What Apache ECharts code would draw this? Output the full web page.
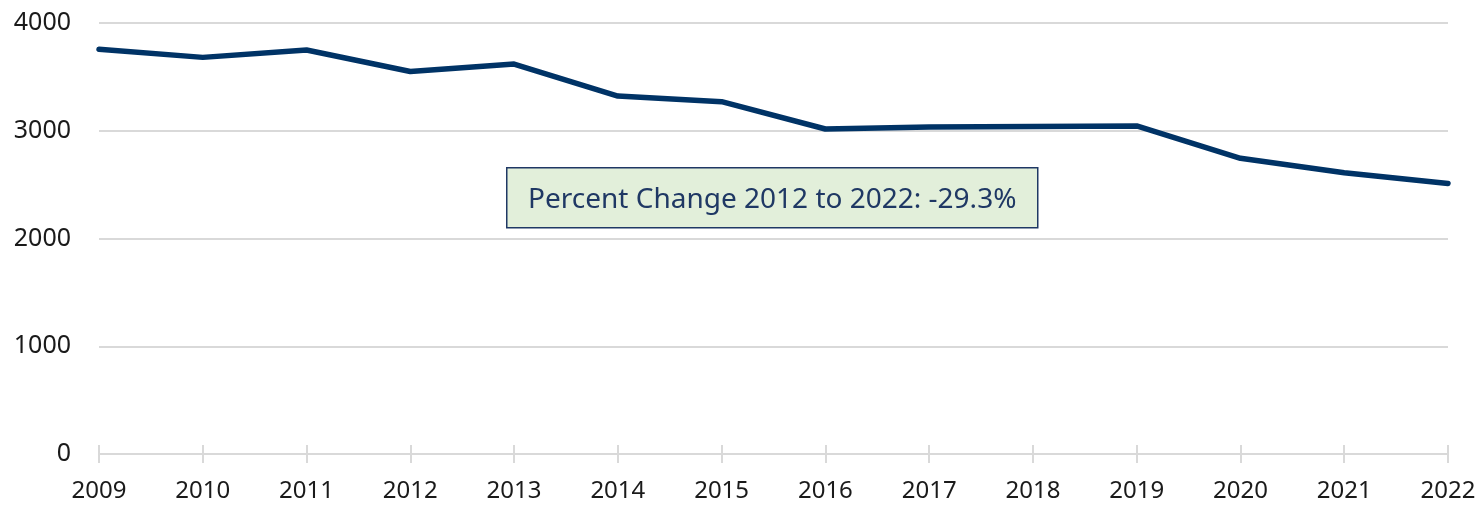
<!DOCTYPE html>
<html>
<head>
<meta charset="utf-8">
<script src="https://cdn.jsdelivr.net/npm/echarts@6/dist/echarts.min.js"></script>
<style>
html,body{margin:0;padding:0;background:#fff;}
#c{width:1484px;height:507px;}
</style>
</head>
<body>
<div id="c"></div>
<script>
const years = ['2009','2010','2011','2012','2013','2014','2015','2016','2017','2018','2019','2020','2021','2022'];
const values = [3756, 3681, 3749, 3550, 3619, 3322, 3270, 3016, 3035, 3040, 3045, 2744, 2611, 2510];
const yTicks = [0, 1000, 2000, 3000, 4000];
const annotation = 'Percent Change 2012 to 2022: -29.3%';

const FONT = '"Noto Sans", "Open Sans", sans-serif';
const chart = echarts.init(document.getElementById('c'), null, {renderer: 'canvas'});
chart.setOption({
  animation: false,
  backgroundColor: '#ffffff',
  grid: {left: 99, right: 36, top: 23, bottom: 53, containLabel: false},
  xAxis: [{
    type: 'category',
    data: years,
    boundaryGap: false,
    axisLine: {show: true, lineStyle: {color: '#d9d9d9', width: 2}},
    axisTick: {show: true, alignWithLabel: true, length: 9, lineStyle: {color: '#d9d9d9', width: 2}},
    axisLabel: {color: '#1a1a1a', fontSize: 24, fontFamily: FONT, margin: 25},
    splitLine: {show: false}
  }, {
    type: 'category',
    data: years,
    boundaryGap: false,
    position: 'bottom',
    axisLine: {show: false},
    axisTick: {show: true, inside: true, length: 9, lineStyle: {color: '#d9d9d9', width: 2}},
    axisLabel: {show: false},
    splitLine: {show: false}
  }],
  yAxis: {
    type: 'value',
    min: yTicks[0],
    max: yTicks[yTicks.length - 1],
    interval: 1000,
    axisLine: {show: false},
    axisTick: {show: false},
    axisLabel: {color: '#1a1a1a', fontSize: 25, fontFamily: FONT, margin: 28, formatter: v => String(v)},
    splitLine: {lineStyle: {color: '#d9d9d9', width: 2}}
  },
  series: [{
    type: 'line',
    data: values,
    xAxisIndex: 0,
    showSymbol: false,
    symbol: 'none',
    lineStyle: {color: '#003366', width: 5.5, cap: 'round', join: 'round'}
  }],
  graphic: [{
    type: 'group',
    left: 506,
    top: 167,
    children: [{
      type: 'rect',
      shape: {x: 0, y: 0, width: 531, height: 60},
      style: {fill: '#e2efda', stroke: '#1f3864', lineWidth: 1.5}
    }, {
      type: 'text',
      x: 265.5,
      y: 32,
      style: {text: annotation, fill: '#1f3864', fontSize: 28, fontFamily: FONT, align: 'center', verticalAlign: 'middle'}
    }]
  }]
});
</script>
</body>
</html>
